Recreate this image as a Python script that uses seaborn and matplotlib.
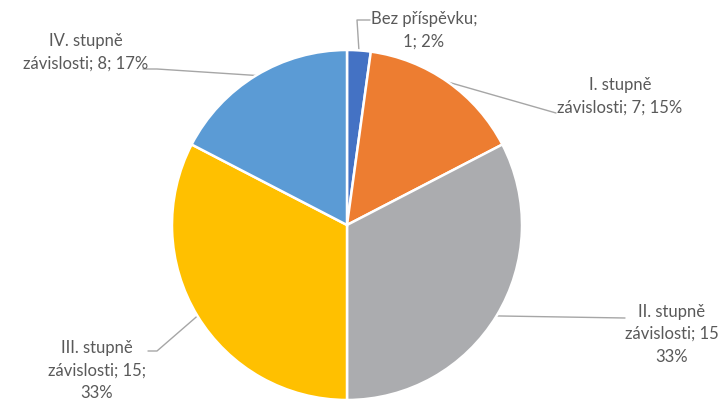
import numpy as np
import matplotlib
matplotlib.use("Agg")
import matplotlib.pyplot as plt
import seaborn as sns

categories = ["Bez příspěvku", "I. stupně závislosti", "II. stupně závislosti",
              "III. stupně závislosti", "IV. stupně závislosti"]
values = [1, 7, 15, 15, 8]
labels = ["Bez příspěvku;\n1; 2%", "I. stupně\nzávislosti; 7; 15%",
          "II. stupně\nzávislosti; 15\n33%", "III. stupně\nzávislosti; 15;\n33%",
          "IV. stupně\nzávislosti; 8; 17%"]
colors = ["#4472C4", "#ED7D31", "#ABACAF", "#FFC000", "#5B9BD5"]

sns.set_theme(style="white")
plt.rcParams['font.family'] = ['Lato', 'DejaVu Sans']

W, H = 718, 400
fig = plt.figure(figsize=(W / 100, H / 100), dpi=100)
cx, cy, R = 347, 225, 175
ax = fig.add_axes([(cx - R) / W, (H - cy - R) / H, 2 * R / W, 2 * R / H])
wedges, _ = ax.pie(values, colors=colors, startangle=90, counterclock=False,
                   wedgeprops=dict(edgecolor="white", linewidth=1.8), radius=1)
ax.set_xlim(-1, 1)
ax.set_ylim(-1, 1)
ax.axis("off")

def px(x, y):
    return ((x - cx) / R, (cy - y) / R)

# text centres (pixels) and leader-line bends (pixels)
text_pos = [(424, 30), (620, 96), (672, 334), (97, 371), (86, 52)]
bends = [[(357, 20), (370, 20)],
         [(556, 113)],
         [(625, 318)],
         [(157, 351), (148, 351)],
         [(157, 69), (143, 69)]]

for w, lab, tp, bd in zip(wedges, labels, text_pos, bends):
    mid = np.deg2rad((w.theta1 + w.theta2) / 2)
    start = (np.cos(mid), np.sin(mid))
    pts = [start] + [px(*b) for b in bd]
    xs, ys = zip(*pts)
    ax.plot(xs, ys, color="#A6A6A6", lw=1.0, clip_on=False, zorder=0.5)
    tx, ty = px(*tp)
    ax.text(tx, ty, lab, ha="center", va="center", fontsize=12,
            color="#595959", linespacing=1.5, clip_on=False)

fig.savefig("out.png", dpi=100)
